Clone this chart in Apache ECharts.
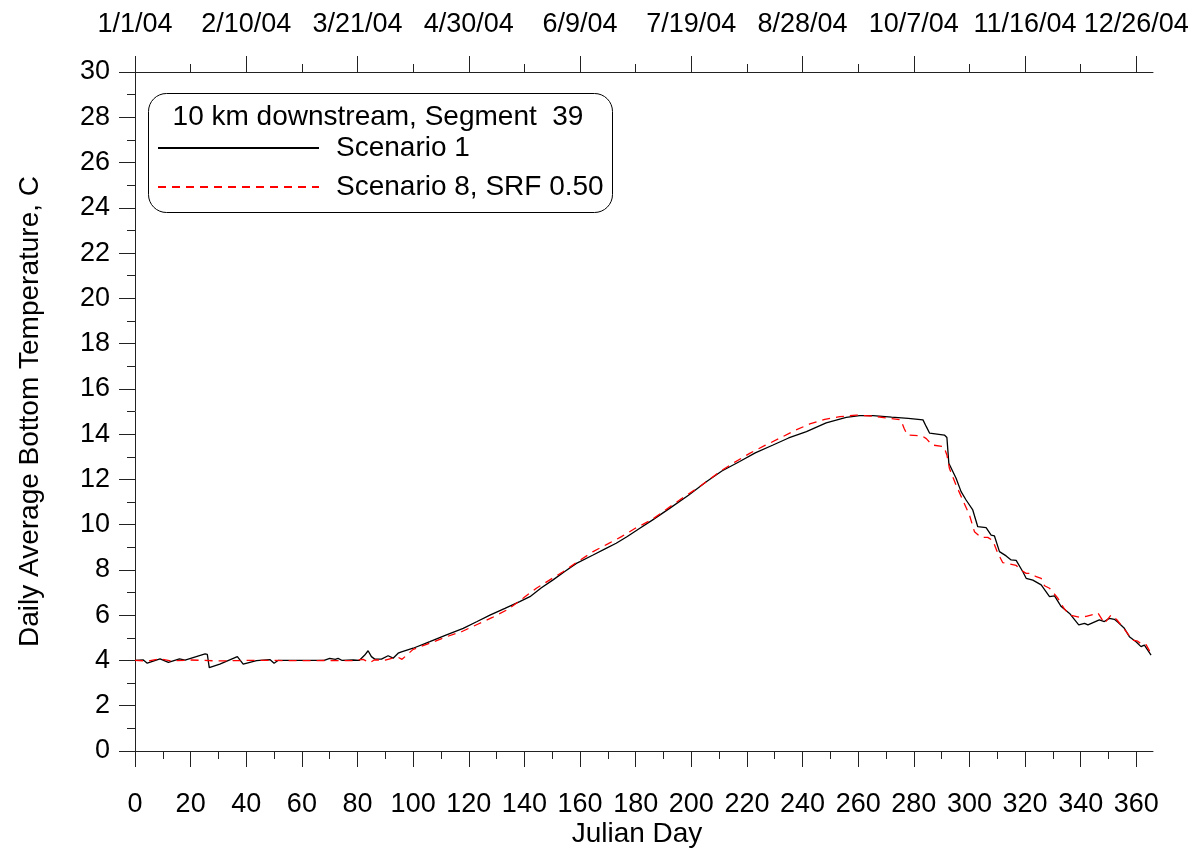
<!DOCTYPE html>
<html>
<head>
<meta charset="utf-8">
<title>Daily Average Bottom Temperature</title>
<script src="https://cdn.jsdelivr.net/npm/echarts@6/dist/echarts.min.js"></script>
<style>
    html, body { margin: 0; padding: 0; background: #fff; }
    #chart { width: 1197px; height: 848px; }
</style>
</head>
<body>
<div id="chart"></div>
<script>
// Scenario 1 (solid black)
var s1Days = [0, 3, 4.4, 9, 12, 16, 18, 25.2, 26, 26.7, 30.5, 36.8, 38.9, 43.7, 48.5, 50, 51.4, 60, 68, 70, 72, 73, 74.5, 78.4, 80.6,
    82.6, 83.8, 85, 86.2, 88.6, 91, 92.8, 94.6, 95.8, 100, 106, 112, 118, 123, 127.6, 133, 138.3, 142, 146, 150.3, 154.5,
    158.7, 164.7, 169, 173, 177, 181.5, 186, 192.2, 199, 205.4, 211, 217.4, 223, 229.4, 235, 241.4, 248.5, 255.7, 260.5,
    265.3, 272, 278, 283.3, 284.5, 285.7, 291, 291.9, 292.6, 295.2, 297, 298.8, 301.2, 303, 306, 307.8, 309, 310.8, 313.2,
    315, 316.8, 319.2, 320.4, 322.8, 325.8, 328.8, 330.6, 333, 336, 339.3, 341.4, 342.6, 346.7, 348.5, 350.3, 352.1, 353.3,
    355.7, 357.5, 359.9, 361.7, 362.9, 365.3];
var s1Temp = [4.0, 4.02, 3.88, 4.07, 3.92, 4.07, 4.02, 4.29, 4.27, 3.68, 3.84, 4.17, 3.84, 3.99, 4.04, 3.88, 4.0, 4.0, 4.0, 4.09, 4.05, 4.09, 4.0, 4.02, 4.0,
    4.24, 4.43, 4.17, 4.06, 4.06, 4.21, 4.1, 4.32, 4.38, 4.54, 4.83, 5.13, 5.42, 5.72, 6.0, 6.3, 6.6, 6.82, 7.2, 7.56, 7.93,
    8.29, 8.66, 8.93, 9.18, 9.48, 9.84, 10.2, 10.72, 11.3, 11.9, 12.37, 12.79, 13.17, 13.52, 13.83, 14.11, 14.5, 14.74, 14.82,
    14.82, 14.75, 14.7, 14.63, 14.33, 14.04, 13.96, 13.85, 12.71, 12.05, 11.46, 11.09, 10.65, 9.91, 9.87, 9.54, 9.5, 8.81, 8.62,
    8.44, 8.42, 7.92, 7.63, 7.55, 7.34, 6.82, 6.85, 6.38, 6.08, 5.57, 5.64, 5.57, 5.79, 5.72, 5.86, 5.82, 5.7,
    5.42, 5.05, 4.83, 4.61, 4.68, 4.24];

// Scenario 8, SRF 0.50 (dashed red)
var s8Days = [0, 5, 9, 13, 20, 30, 40, 50, 60, 70, 78, 82, 84.4, 86, 90, 93, 94.6, 96, 100, 106, 112, 117.4, 123.4, 128.5,
    134.1, 139.5, 144.3, 149, 153.9, 159, 164.7, 170, 174.9, 180, 185.7, 195.8, 203, 210.2, 215.5, 221, 226.5, 231.8, 237,
    242.6, 248, 253.4, 259.3, 265, 270, 275.3, 276.5, 277.7, 283, 284.5, 286.6, 290.8, 291.9, 292.8, 295.2, 297.6, 300,
    301.8, 304.2, 306.6, 308.4, 310.2, 312, 313.3, 316.8, 318.5, 320.4, 322, 324, 325.8, 327, 328.8, 331.8, 334, 336,
    339.6, 342, 345, 346.2, 348.5, 350.9, 353, 355, 358.7, 360.5, 362.3, 363.5, 365.3];
var s8Temp = [4.0, 3.98, 4.07, 3.98, 4.02, 3.98, 4.0, 4.0, 3.99, 4.0, 3.99, 4.05, 3.9, 4.02, 4.02, 4.12, 4.14, 4.05, 4.49, 4.76, 5.05, 5.27, 5.61, 5.9,
    6.26, 6.75, 7.19, 7.55, 7.92, 8.35, 8.81, 9.15, 9.47, 9.85, 10.21, 11.09, 11.68, 12.34, 12.75, 13.15, 13.5, 13.82, 14.15,
    14.45, 14.65, 14.77, 14.84, 14.8, 14.72, 14.63, 14.26, 13.96, 13.92, 13.8, 13.52, 13.45, 13.08, 12.49, 11.75, 11.09, 10.43,
    9.69, 9.44, 9.44, 9.3, 8.74, 8.32, 8.3, 8.2, 8.0, 7.85, 7.85, 7.7, 7.63, 7.3, 7.19, 6.75, 6.3, 6.01,
    5.91, 5.95, 6.05, 6.1, 5.64, 6.01, 5.8, 5.49, 4.9, 4.85, 4.68, 4.7, 4.3];

// axis ticks
var dayTicks = [0, 20, 40, 60, 80, 100, 120, 140, 160, 180, 200, 220, 240, 260, 280, 300, 320, 340, 360];
var dayMinorTicks = [10, 30, 50, 70, 90, 110, 130, 150, 170, 190, 210, 230, 250, 270, 290, 310, 330, 350];
var dateTicks = [0, 40, 80, 120, 160, 200, 240, 280, 320, 360];
var dateMinorTicks = [20, 60, 100, 140, 180, 220, 260, 300, 340];
var dateLabels = ['1/1/04', '2/10/04', '3/21/04', '4/30/04', '6/9/04', '7/19/04', '8/28/04', '10/7/04', '11/16/04', '12/26/04'];

var seriesNames = ['Scenario 1', 'Scenario 8, SRF 0.50'];
var boxTitle = '10 km downstream, Segment  39';

function pairs(xs, ys) {
    var out = [];
    for (var i = 0; i < xs.length; i++) out.push([xs[i], ys[i]]);
    return out;
}

var FONT = '"Liberation Sans", Arial, sans-serif';
var TICK_FS = 27;
var NAME_FS = 28;
var LEGEND_FS = 28;
var axisColor = '#222';
var DAY_MAX = 366;

var chart = echarts.init(document.getElementById('chart'), null, {renderer: 'canvas'});

// main x axis (bottom / top) with long ticks
function dayAxis(position, ticks, margin, formatter) {
    return {
        type: 'value',
        position: position,
        min: 0,
        max: DAY_MAX,
        axisLine: {show: true, lineStyle: {color: axisColor, width: 1}},
        axisTick: {show: true, length: 16, customValues: ticks, lineStyle: {color: axisColor}},
        minorTick: {show: false},
        splitLine: {show: false},
        axisLabel: {
            color: '#000', fontFamily: FONT, fontSize: TICK_FS, margin: margin,
            customValues: ticks, formatter: formatter
        }
    };
}

// overlay axis that only draws the short in-between ticks
function minorAxis(position, ticks) {
    return {
        type: 'value',
        position: position,
        min: 0,
        max: DAY_MAX,
        axisLine: {show: false},
        axisTick: {show: true, length: 8, customValues: ticks, lineStyle: {color: axisColor}},
        axisLabel: {show: false},
        splitLine: {show: false}
    };
}

var bottomAxis = dayAxis('bottom', dayTicks, 40, function(v) { return String(v); });
bottomAxis.name = 'Julian Day';
bottomAxis.nameLocation = 'middle';
bottomAxis.nameGap = 69;
bottomAxis.nameMoveOverlap = false;
bottomAxis.nameTextStyle = {color: '#000', fontFamily: FONT, fontSize: NAME_FS, padding: [0, 14, 0, 0]};

var topAxis = dayAxis('top', dateTicks, 34, function(v) {
    return dateLabels[dateTicks.indexOf(v)] || '';
});

chart.setOption({
    animation: false,
    backgroundColor: '#fff',
    grid: {left: 135, right: 44, top: 72, bottom: 97, containLabel: false, outerBoundsMode: 'none'},
    xAxis: [
        bottomAxis,
        topAxis,
        minorAxis('bottom', dayMinorTicks),
        minorAxis('top', dateMinorTicks)
    ],
    yAxis: {
        type: 'value',
        min: 0,
        max: 30,
        interval: 2,
        name: 'Daily Average Bottom Temperature, C',
        nameLocation: 'middle',
        nameGap: 91,
        nameMoveOverlap: false,
        nameTextStyle: {color: '#000', fontFamily: FONT, fontSize: NAME_FS},
        axisLine: {show: true, lineStyle: {color: axisColor, width: 1}},
        axisTick: {show: true, length: 16, lineStyle: {color: axisColor}},
        minorTick: {show: true, splitNumber: 2, length: 8, lineStyle: {color: axisColor}},
        splitLine: {show: false},
        axisLabel: {color: '#000', fontFamily: FONT, fontSize: TICK_FS, margin: 25}
    },
    legend: {
        data: seriesNames,
        orient: 'vertical',
        left: 157,
        top: 134,
        padding: 0,
        itemWidth: 161,
        itemHeight: 14,
        itemGap: 11,
        z: 5,
        itemStyle: {opacity: 0, borderWidth: 0},
        textStyle: {color: '#000', fontFamily: FONT, fontSize: LEGEND_FS, padding: [0, 0, 0, 12]}
    },
    graphic: [
        {
            type: 'rect',
            left: 148,
            top: 93,
            z: 1,
            shape: {width: 464, height: 119, r: 18},
            style: {fill: '#fff', stroke: '#000', lineWidth: 1}
        },
        {
            type: 'text',
            x: 378,
            y: 117,
            z: 2,
            style: {
                text: boxTitle,
                fill: '#000',
                font: LEGEND_FS + 'px ' + FONT,
                textAlign: 'center',
                textVerticalAlign: 'middle'
            }
        }
    ],
    series: [
        {
            name: seriesNames[0],
            type: 'line',
            xAxisIndex: 0,
            symbol: 'none',
            data: pairs(s1Days, s1Temp),
            lineStyle: {color: '#000', width: 1.3},
            itemStyle: {color: '#000'}
        },
        {
            name: seriesNames[1],
            type: 'line',
            xAxisIndex: 0,
            symbol: 'none',
            data: pairs(s8Days, s8Temp),
            lineStyle: {color: '#ff0000', width: 1.3, type: [8, 6]},
            itemStyle: {color: '#ff0000'}
        }
    ]
});
</script>
</body>
</html>
